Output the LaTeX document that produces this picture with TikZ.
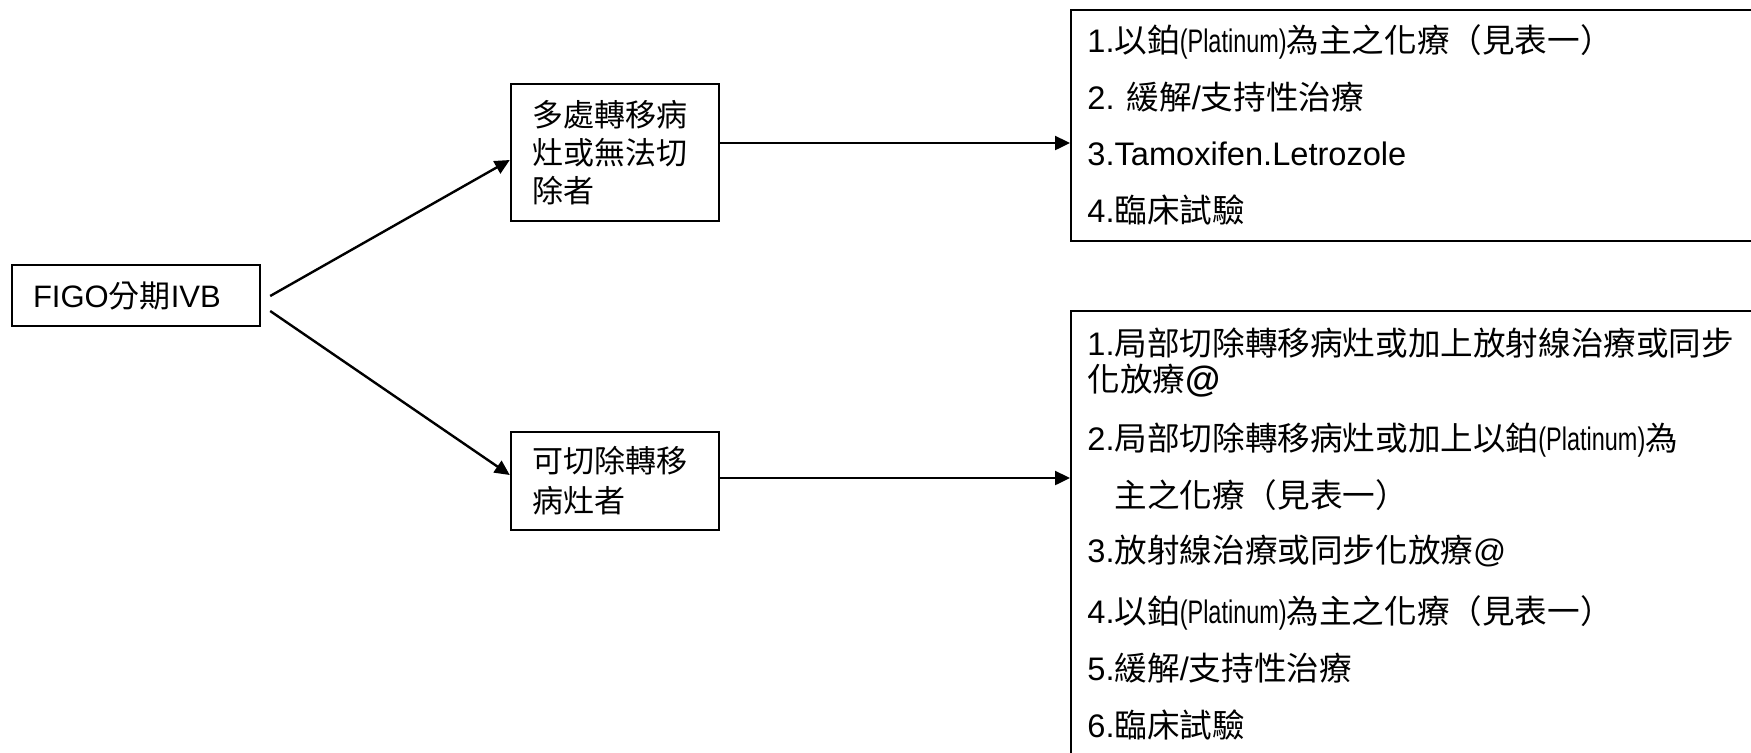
\documentclass[tikz,border=0pt]{standalone}
\usepackage{fontspec}
\setmainfont{Liberation Sans}
\newfontfamily\cjkfont{Noto Sans CJK TC}
\newfontfamily\narrowfont{Liberation Sans}[FakeStretch=0.72]
\newcommand\zh[1]{{\cjkfont #1}}
\newcommand\nr[1]{{\narrowfont #1}}
\usetikzlibrary{arrows.meta}
\begin{document}
\begin{tikzpicture}[x=0.5pt,y=-0.5pt,
  every node/.style={font=\fontsize{15.5}{19}\selectfont},
  box/.style={draw, line width=1.2pt, align=left, inner xsep=10.5pt, inner ysep=0pt},
  bigbox/.style={draw, line width=1.2pt, anchor=north west, inner sep=0pt},
  rline/.style={anchor=west, inner sep=0pt, text height=14pt, text depth=2.1pt, font=\fontsize{16.3}{19}\selectfont},
  arr/.style={line width=1.2pt, -{Triangle[length=7.5pt,width=7pt]}}]
\useasboundingbox (0,0) rectangle (1751,752);
% left and middle boxes
\node[box, text width=103pt, minimum height=30.5pt] (F) at (136,295.5) {FIGO\zh{分期}IVB};
\node[box, text width=83pt, minimum height=68.5pt] (M1) at (615,152.5) {\zh{多處轉移病}\\\zh{灶或無法切}\\\zh{除者}};
\node[box, text width=83pt, minimum height=49pt] (M2) at (615,481) {\zh{可切除轉移}\\[1pt]\zh{病灶者}};
% right boxes
\node[bigbox, minimum width=370pt, minimum height=115.5pt] (T) at (1070,9) {};
\node[bigbox, minimum width=370pt, minimum height=250pt] (B) at (1070,310) {};
% top right texts
\node[rline] (t1) at (1087,41) {1.\zh{以鉑}\nr{(Platinum)}\zh{為主之化療（見表一）}};
\node[rline] (t2) at (1087,98) {2. \zh{緩解}/\zh{支持性治療}};
\node[rline] (t3) at (1087,154) {3.Tamoxifen.Letrozole};
\node[rline] (t4) at (1087,211) {4.\zh{臨床試驗}};
% bottom right texts
\node[rline] (b1) at (1087,344) {1.\zh{局部切除轉移病灶或加上放射線治療或同步}};
\node[rline] (b1b) at (1087,380) {\zh{化放療}{\fontsize{18}{18}\selectfont\bfseries @}};
\node[rline] (b2) at (1087,439) {2.\zh{局部切除轉移病灶或加上以鉑}\nr{(Platinum)}\zh{為}};
\node[rline] (b2b) at (1114,496) {\zh{主之化療（見表一）}};
\node[rline] (b3) at (1087,551) {3.\zh{放射線治療或同步化放療}@};
\node[rline] (b4) at (1087,612) {4.\zh{以鉑}\nr{(Platinum)}\zh{為主之化療（見表一）}};
\node[rline] (b5) at (1087,669) {5.\zh{緩解}/\zh{支持性治療}};
\node[rline] (b6) at (1087,726) {6.\zh{臨床試驗}};
% connectors
\draw[arr] ([xshift=4.5pt,yshift=-0.25pt]F.east) -- ([yshift=-3.75pt]M1.west);
\draw[arr] ([xshift=4.5pt,yshift=-7.75pt]F.east) -- ([yshift=3pt]M2.west);
\coordinate (m1o) at ([yshift=4.75pt]M1.east);
\coordinate (m2o) at ([yshift=1.5pt]M2.east);
\draw[arr] (m1o) -- (m1o -| T.west);
\draw[arr] (m2o) -- (m2o -| B.west);
\end{tikzpicture}
\end{document}
